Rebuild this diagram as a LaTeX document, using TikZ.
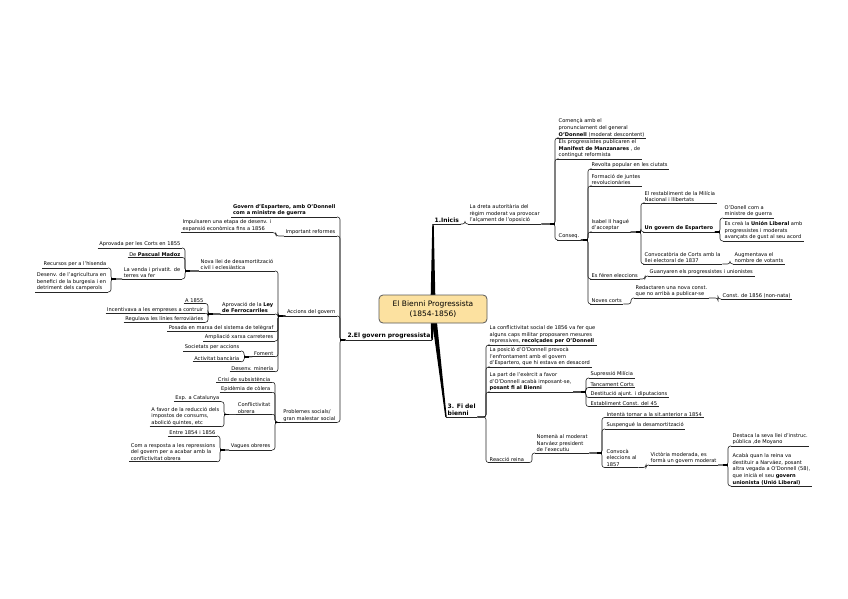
\documentclass[tikz,border=0pt]{standalone}
\usepackage{fontspec}
\setmainfont{DejaVu Sans}
\usetikzlibrary{calc,backgrounds}
\definecolor{ctrfill}{RGB}{252,225,160}
\tikzset{
 t/.style={font=\fontsize{5.1}{6.6}\selectfont, inner xsep=1.5pt, inner ysep=1pt, align=left},
 tr/.style={t, anchor=south west},
 tl/.style={t, anchor=south east},
 mb/.style={font=\fontsize{6}{7.4}\selectfont\bfseries, inner xsep=1.5pt, inner ysep=1pt, align=left},
 ln/.style={draw=black!85, line width=0.6pt, rounded corners=2.5pt},
 ul/.style={draw=black!85, line width=0.6pt},
 jn/.style={draw=black, line width=1.6pt},
 ctr/.style={draw=black!65, line width=0.8pt, fill=ctrfill, rounded corners=4pt,
   minimum width=108pt, minimum height=28pt, align=center, font=\fontsize{7.5}{9.5}\selectfont}
}
\newcommand\conR[3]{\draw[ln] let \p1=(#1.south east) in (\p1) -- (#3pt,\y1) |- (#2.south west);}
\newcommand\conL[3]{\draw[ln] let \p1=(#1.south west) in (\p1) -- (#3pt,\y1) |- (#2.south east);}
\newcommand\jR[2]{\draw[jn] let \p1=(#1.south east) in (#2pt-5pt,\y1) -- (#2pt,\y1);}
\newcommand\jL[2]{\draw[jn] let \p1=(#1.south west) in (#2pt+5pt,\y1) -- (#2pt,\y1);}
\begin{document}
\begin{tikzpicture}[x=1pt,y=-1pt]
\useasboundingbox (0,0) rectangle (848,599);

\node[ctr] (C) at (433,309) {El Bienni Progressista\\(1854-1856)};

% ---------- 1. Inicis ----------
\node[mb, anchor=south west] (I1) at (433,224) {1.Inicis};
\node[tr] (I2) at (468,224) {La dreta autoritària del\\règim moderat va provocar\\l'alçament de l'oposició};
\node[tr] (I3) at (557,138) {Començà amb el\\pronunciament del general\\\textbf{O'Donnell} (moderat descontent)};
\node[tr] (I4) at (557,159) {Els progressistes publicaren el\\\textbf{Manifest de Manzanares} , de\\contingut reformista};
\node[tr] (I5) at (557,240) {Conseq.};
\node[tr] (I6) at (590,169) {Revolta popular en les ciutats};
\node[tr] (I7) at (590,186) {Formació de juntes\\revolucionàries};
\node[tr] (I8) at (590,232) {Isabel II hagué\\d'acceptar};
\node[tr] (I9) at (643,203) {El restabliment de la Milícia\\Nacional i llibertats};
\node[tr] (I10) at (643,232) {\textbf{Un govern de Espartero}};
\node[tr] (I11) at (723,218) {O'Donell com a\\ministre de guerra};
\node[tr] (I12) at (723,241) {Es creà la \textbf{Unión Liberal} amb\\progressistes i moderats\\avançats de gust al seu acord};
\node[tr] (I13) at (643,264) {Convocatòria de Corts amb la\\llei electoral de 1837};
\node[tr] (I14) at (733,264) {Augmentava el\\nombre de votants};
\node[tr] (I15) at (590,279) {Es féren eleccions};
\node[tr] (I16) at (648,276) {Guanyaren els progressistes i unionistes};
\node[tr] (I17) at (590,304) {Noves corts};
\node[tr] (I18) at (634,298) {Redactaren una nova const.\\que no arribà a publicar-se};
\node[tr] (I19) at (721,299) {Const. de 1856 (non-nata)};

% ---------- 3. Fi del bienni ----------
\node[mb, anchor=south west] (F1) at (446,417) {3. Fi del\\bienni};
\node[tr] (F2) at (488,345) {La conflictivitat social de 1856 va fer que\\alguns caps militar proposaren mesures\\repressives, \textbf{recolçades per O'Donnell}};
\node[tr] (F3) at (488,367) {La posició d'O'Donnell provocà\\l'enfrontament amb el govern\\d'Espartero, que hi estava en desacord};
\node[tr] (F4) at (488,392) {La part de l'exèrcit a favor\\d'O'Donnell acabà imposant-se,\\\textbf{posant fi al Bienni}};
\node[tr] (F5) at (589,378) {Supressió Milícia};
\node[tr] (F6) at (589,387.5) {Tancament Corts};
\node[tr] (F7) at (589,397.5) {Destitució ajunt. i diputacions};
\node[tr] (F8) at (589,406.5) {Establiment Const. del 45};
\node[tr] (F9) at (488,462.5) {Reacció reina};
\node[tr] (F10) at (535,453) {Nomenà al moderat\\Narváez president\\de l'executiu};
\node[tr] (F11) at (605,417.5) {Intentà tornar a la sit.anterior a 1854};
\node[tr] (F12) at (605,429) {Suspengué la desamortització};
\node[tr] (F13) at (605,467.5) {Convocà\\eleccions al\\1857};
\node[tr] (F14) at (649,465) {Victòria moderada, es\\formà un govern moderat};
\node[tr] (F15) at (731,446) {Destaca la seva llei d'instruc.\\pública ,de Moyano};
\node[tr] (F16) at (731,486) {Acabà quan la reina va\\destituir a Narváez, posant\\altra vegada a O'Donnell (58),\\que inicià el seu \textbf{govern}\\\textbf{unionista (Unió Liberal)}};

% ---------- 2. El govern progressista ----------
\node[mb, anchor=south east] (G0) at (432,340) {2.El govern progressista};
\node[tl] (G1) at (337,217) {\textbf{Govern d'Espartero, amb O'Donnell}\\\textbf{com a ministre de guerra}};
\node[tl] (G2) at (337,236) {Important reformes};
\node[tl] (G3) at (273,232.7) {Impulsaren una etapa de desenv. i\\expansió econòmica fins a 1856};
\node[tl] (G4) at (337,316) {Accions del govern};
\node[tl] (G5) at (275,271) {Nova llei de desamortització\\civil i eclesiàstica};
\node[tl] (G6) at (182,248) {Aprovada per les Corts en 1855};
\node[tl] (G7) at (182,257.5) {De \textbf{Pascual Madoz}};
\node[tl] (G8) at (182,279) {La venda i privatit. de\\terres va fer};
\node[tl] (G9) at (108,268) {Recursos per a l'hisenda};
\node[tl] (G10) at (108,292) {Desenv. de l'agricultura en\\benefici de la burgesia i en\\detriment dels camperols};
\node[tl] (G11) at (275,314) {Aprovació de la \textbf{Ley}\\\textbf{de Ferrocarriles}};
\node[tl] (G12) at (205,303.5) {A 1855};
\node[tl] (G13) at (205,313.3) {Incentivava a les empreses a contruir};
\node[tl] (G14) at (205,322.3) {Regulava les línies ferroviàries};
\node[tl] (G15) at (275,331.7) {Posada en marxa del sistema de telègraf};
\node[tl] (G16) at (275,341) {Ampliació xarxa carreteres};
\node[tl] (G17) at (275,356.7) {Foment};
\node[tl] (G18) at (241,351) {Societats per accions};
\node[tl] (G19) at (241,361.7) {Activitat bancària};
\node[tl] (G20) at (275,371.7) {Desenv. minería};
\node[tl] (G21) at (337,422.3) {Problemes socials/\\gran malestar social};
\node[tl] (G22) at (272,382.3) {Crisi de subsistència};
\node[tl] (G23) at (272,392.3) {Epidèmia de còlera};
\node[tl] (G24) at (272,414.3) {Conflictivitat\\obrera};
\node[tl] (G25) at (221,401.7) {Exp. a Catalunya};
\node[tl] (G26) at (221,426.7) {A favor de la reducció dels\\impostos de consums,\\abolició quintes, etc};
\node[tl] (G27) at (272,450) {Vagues obreres};
\node[tl] (G28) at (217,436) {Entre 1854 i 1856};
\node[tl] (G29) at (217,461.7) {Com a resposta a les repressions\\del govern per a acabar amb la\\conflictivitat obrera};

% underlines
\foreach \n in {I1,I2,I3,I4,I5,I6,I7,I8,I9,I10,I11,I12,I13,I14,I15,I16,I17,I18,I19,
  F1,F2,F3,F4,F5,F6,F7,F8,F9,F10,F11,F12,F13,F14,F15,F16,
  G0,G1,G2,G3,G4,G5,G6,G7,G8,G9,G10,G11,G12,G13,G14,G15,G16,G17,G18,G19,G20,G21,G22,G23,G24,G25,G26,G27,G28,G29}
  \draw[ul] (\n.south west) -- (\n.south east);

\begin{scope}[on background layer]
\fill[white] (0,0) rectangle (848,599);
% main tapered branches
\fill[black] ($(C.center)+(-2.6,0)$) -- ($(I1.south west)+(-0.7,0)$) -- ($(I1.south west)+(0.7,0)$) -- ($(C.center)+(2.6,0)$) -- cycle;
\fill[black] ($(C.center)+(-2.6,0)$) -- ($(F1.south west)+(-0.7,0)$) -- ($(F1.south west)+(0.7,0)$) -- ($(C.center)+(2.6,0)$) -- cycle;
\fill[black] ($(C.center)+(-2.6,0)$) -- ($(G0.south east)+(-0.7,0)$) -- ($(G0.south east)+(0.7,0)$) -- ($(C.center)+(2.6,0)$) -- cycle;
% right side connectors
\conR{I1}{I2}{465}
\conR{I2}{I3}{555}\conR{I2}{I4}{555}\conR{I2}{I5}{555}
\conR{I5}{I6}{588}\conR{I5}{I7}{588}\conR{I5}{I8}{588}\conR{I5}{I15}{588}\conR{I5}{I17}{588}
\conR{I8}{I9}{641}\conR{I8}{I10}{641}\conR{I8}{I13}{641}
\conR{I10}{I11}{720}\conR{I10}{I12}{720}
\conR{I13}{I14}{730}
\conR{I15}{I16}{645}
\conR{I17}{I18}{631}
\conR{I18}{I19}{718}
\conR{F1}{F2}{486}\conR{F1}{F3}{486}\conR{F1}{F4}{486}\conR{F1}{F9}{486}
\conR{F4}{F5}{586}\conR{F4}{F6}{586}\conR{F4}{F7}{586}\conR{F4}{F8}{586}
\conR{F9}{F10}{532}
\conR{F10}{F11}{602}\conR{F10}{F12}{602}\conR{F10}{F13}{602}
\conR{F13}{F14}{646}
\conR{F14}{F15}{728}\conR{F14}{F16}{728}
% left side connectors
\conL{G0}{G1}{340}\conL{G0}{G2}{340}\conL{G0}{G4}{340}\conL{G0}{G21}{340}
\conL{G2}{G3}{276}
\conL{G4}{G5}{278}\conL{G4}{G11}{278}\conL{G4}{G15}{278}\conL{G4}{G16}{278}\conL{G4}{G17}{278}\conL{G4}{G20}{278}
\conL{G5}{G6}{185}\conL{G5}{G7}{185}\conL{G5}{G8}{185}
\conL{G8}{G9}{111}\conL{G8}{G10}{111}
\conL{G11}{G12}{208}\conL{G11}{G13}{208}\conL{G11}{G14}{208}
\conL{G17}{G18}{244}\conL{G17}{G19}{244}
\conL{G21}{G22}{275}\conL{G21}{G23}{275}\conL{G21}{G24}{275}\conL{G21}{G27}{275}
\conL{G24}{G25}{224}\conL{G24}{G26}{224}
\conL{G27}{G28}{220}\conL{G27}{G29}{220}
\end{scope}
% junction marks
\jR{I2}{555}\jR{I5}{588}\jR{I8}{641}\jR{I10}{720}\jR{F4}{586}\jR{F10}{602}\jR{F14}{728}
\jL{G0}{340}\jL{G4}{278}\jL{G5}{185}\jL{G8}{111}\jL{G11}{208}\jL{G17}{244}\jL{G21}{275}\jL{G24}{224}\jL{G27}{220}
\end{tikzpicture}
\end{document}
